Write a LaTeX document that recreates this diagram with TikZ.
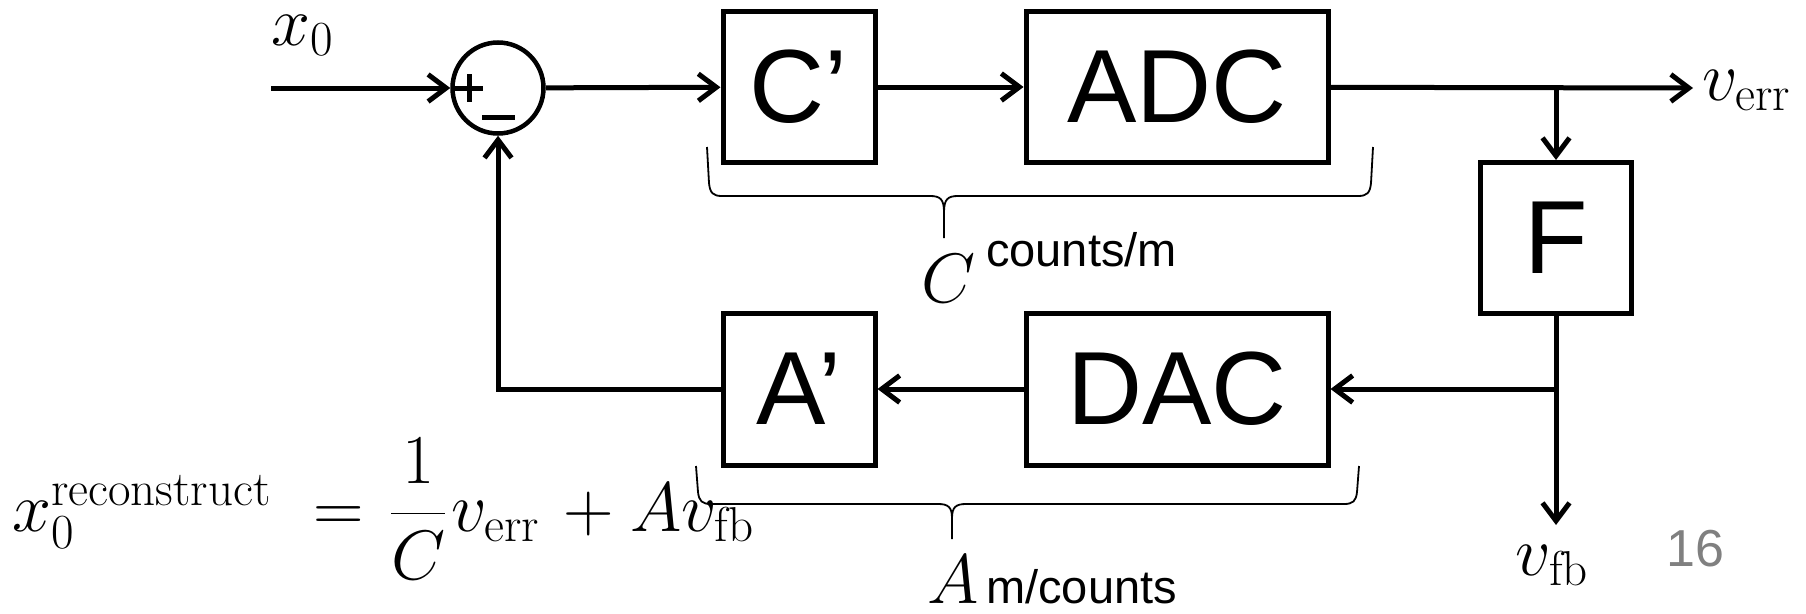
\RequirePackage{fix-cm}
\documentclass[tikz,border=0pt]{standalone}
\usepackage{fontspec}
\setsansfont{Liberation Sans}
\usetikzlibrary{arrows.meta}
\begin{document}
\begin{tikzpicture}[x=1pt,y=-1pt,
  blk/.style={draw, line width=5pt, inner sep=0pt, font=\sffamily\fontsize{104}{110}\selectfont},
  arr/.style={-{Straight Barb[length=18pt,width=27pt]}, line width=5pt},
  mth/.style={font=\fontsize{70}{80}\selectfont, inner sep=0pt},
  unit/.style={font=\sffamily\fontsize{47}{50}\selectfont, inner sep=0pt},
  brc/.style={line width=1.8pt}
]
\useasboundingbox (0,0) rectangle (1806,613);

\node[blk, minimum width=152pt, minimum height=151pt] (cp) at (799,87) {C’};
\node[blk, minimum width=302pt, minimum height=151pt] (adc) at (1177,87) {ADC};
\node[blk, minimum width=151pt, minimum height=151pt] (f) at (1556,238) {F};
\node[blk, minimum width=152pt, minimum height=152pt] (ap) at (799,389) {A’};
\node[blk, minimum width=302pt, minimum height=152pt] (dac) at (1177,389) {DAC};
\node[draw, circle, line width=4.5pt, minimum size=91pt, inner sep=0pt] (sum) at (498,88) {};

\draw[line width=5pt] (sum.center) ++(-43,0) -- ++(28,0);
\draw[line width=5pt] (sum.center) ++(-29,-14) -- ++(0,28);
\draw[line width=5pt] (sum.center) ++(-16,29) -- ++(33,0);

\coordinate (in) at (271,88);
\coordinate (verr) at (1693,88);
\coordinate (fbend) at (1556,525);

\draw[arr] (in) -- (sum);
\draw[arr] (sum) -- (cp);
\draw[arr] (cp) -- (adc);
\draw[arr] (adc) -- (verr);
\draw[arr] (adc.east -| f.north) -- (f.north);
\draw[arr] (f) -- (fbend);
\draw[arr] (f.south |- dac.east) -- (dac);
\draw[arr] (dac) -- (ap);
\draw[arr] (ap.west) -| (sum.south);

\node[mth, anchor=base west] (x0) at (271,45) {$x_0$};
\node[mth, anchor=base west] (verrl) at (1702,100) {$v_{\mathrm{err}}$};
\node[mth, anchor=base] (vfbl) at (1552,575) {$v_{\mathrm{fb}}$};
\node[font=\sffamily\fontsize{52}{56}\selectfont, text=gray, anchor=base west, inner sep=0pt] (pg) at (1666,566) {16};
\node[mth, anchor=base west] (cl) at (921,302) {$C$};
\node[unit, anchor=base west] (cu) at (986,266) {counts/m};
\node[mth, anchor=base west] (al) at (927,603) {$A$};
\node[unit, anchor=base west] (au) at (986,603) {m/counts};

\node[mth, anchor=base west] (eqx) at (12,531) {$x_0^{\hbox{\fontsize{49}{50}\selectfont reconstruct}}$};
\node[mth, anchor=base west] (eqeq) at (313,531) {$=$};
\node[mth, anchor=base west] (eqfr) at (390,531) {$\displaystyle\frac{1}{C}$};
\node[mth, anchor=base west] (eqv) at (451,531) {$v_{\mathrm{err}}$};
\node[mth, anchor=base west] (eqp) at (563,531) {$+$};
\node[mth, anchor=base west] (eqa) at (630,531) {$Av_{\mathrm{fb}}$};

\draw[brc] (707,147) -- (709,183) .. controls (710,193) and (713,196) .. (722,196) -- (930,196) .. controls (940,196) and (944,199) .. (944,212) -- (944,238);
\draw[brc] (944,212) .. controls (944,199) and (948,196) .. (958,196) -- (1358,196) .. controls (1367,196) and (1370,193) .. (1371,183) -- (1373,147);

\draw[brc] (696,466) -- (698,492) .. controls (699,501) and (702,504) .. (711,504) -- (938,504) .. controls (948,504) and (952,507) .. (952,518) -- (952,539);
\draw[brc] (952,518) .. controls (952,507) and (956,504) .. (966,504) -- (1344,504) .. controls (1353,504) and (1356,501) .. (1357,492) -- (1359,466);
\end{tikzpicture}
\end{document}
